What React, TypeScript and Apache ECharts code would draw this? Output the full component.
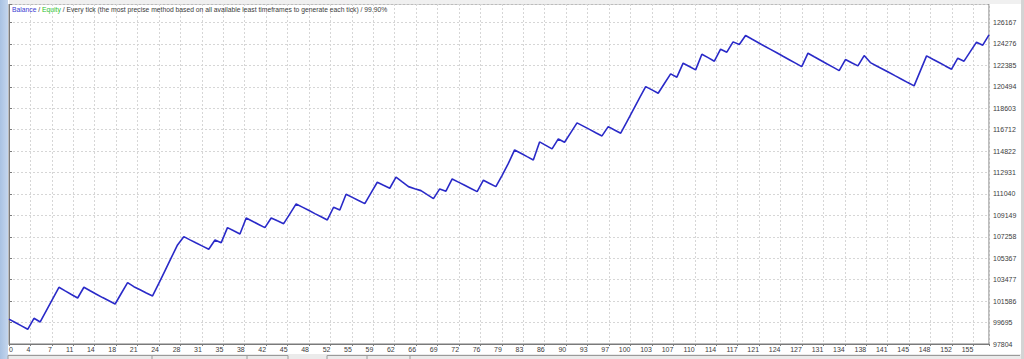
import React, { useEffect, useRef } from 'react';
import * as echarts from 'echarts';

// Tick labels
const xTickLabels = ['0', '4', '7', '11', '14', '18', '21', '24', '28', '31', '35', '38', '42', '45', '48', '52', '55', '59', '62', '66', '69', '72', '76', '79', '83', '86', '90', '93', '97', '100', '103', '107', '110', '114', '117', '121', '124', '127', '131', '134', '138', '141', '145', '148', '152', '155'];
const yTickLabels = ['97804', '99695', '101586', '103477', '105367', '107258', '109149', '111040', '112931', '114822', '116712', '118603', '120494', '122385', '124276', '126167'];

// Balance after each trade (index = trade number)
const balance = [
  100000, 99700, 99400, 99102, 100073, 99746, 100767, 101788, 102809, 102490,
  102175, 101864, 102809, 102500, 102200, 101900, 101620, 101335, 102280, 103215,
  102862, 102590, 102310, 102041, 103150, 104280, 105420, 106543, 107275, 106990,
  106710, 106440, 106163, 106984, 106746, 108070, 107790, 107514, 108926, 108640,
  108355, 108070, 108926, 108670, 108423, 109290, 110162, 109880, 109600, 109310,
  109030, 108749, 109871, 109632, 111018, 110740, 110460, 110188, 111130, 112077,
  111810, 111548, 112519, 112100, 111689, 111510, 111336, 110980, 110630, 111486,
  111283, 112369, 112090, 111810, 111530, 111248, 112254, 111970, 111689, 112686,
  113736, 114928, 114640, 114340, 114046, 115635, 115330, 115017, 115899, 115608,
  116460, 117312, 117030, 116740, 116450, 116164, 116985, 116690, 116402, 117430,
  118459, 119490, 120516, 120225, 119933, 120790, 121637, 121346, 122581, 122290,
  121990, 123376, 123070, 122758, 123817, 123552, 124462, 124223, 125018, 124710,
  124410, 124100, 123800, 123500, 123190, 122890, 122590, 122281, 123464, 123150,
  122840, 122530, 122230, 121928, 122899, 122620, 122343, 123252, 122634, 122340,
  122050, 121760, 121460, 121170, 120870, 120578, 121900, 123226, 122930, 122640,
  122340, 122052, 123023, 122758, 123600, 124435, 124170, 125079,
];

const titleText = 'Every tick (the most precise method based on all available least timeframes to generate each tick) / 99.90%';

const W = 1024;
const H = 359;
const gridLeft = 9;
const gridRight = 35;
const gridTop = 4;
const gridBottom = 15;
const plotW = W - gridLeft - gridRight;
const plotH = H - gridTop - gridBottom;
const tickPx = 21.43;
const lastIndex = balance.length - 1;
const xInterval = (lastIndex * tickPx) / plotW;
const yBase = 97804;
const yStep = 1890.848;
const yMax = (plotH / tickPx) * yStep;

const FONT = '"Liberation Sans", Arial, sans-serif';
const LABEL_SIZE = 7;
const TITLE_SIZE = 6.75;

export default function App() {
  const ref = useRef<HTMLDivElement>(null);
  useEffect(() => {
    document.body.style.margin = '0';
    if (!ref.current) return;
    const chart = echarts.init(ref.current, undefined, { renderer: 'svg' });
    const data = balance.map((v, i) => [i, v - yBase]);
    chart.setOption({
      animation: false,
      backgroundColor: '#ffffff',
      grid: {
        left: gridLeft, right: gridRight, top: gridTop, bottom: gridBottom,
        show: true, borderColor: '#7a7a7a', borderWidth: 1, backgroundColor: '#ffffff',
      },
      xAxis: {
        type: 'value', min: 0, max: lastIndex, interval: xInterval,
        axisLine: { show: true, lineStyle: { color: '#7a7a7a', width: 1 } },
        axisTick: { show: true, length: 2, lineStyle: { color: '#7a7a7a' } },
        axisLabel: {
          fontSize: LABEL_SIZE, fontFamily: FONT, color: '#3c3c3c', margin: 2,
          align: 'right', alignMinLabel: 'left', showMaxLabel: true,
          formatter: (v: number) => {
            const idx = Math.round(v / xInterval);
            if (Math.abs(idx * xInterval - v) > 0.01) return '';
            return xTickLabels[idx] ?? '';
          },
        },
        splitLine: { show: true, lineStyle: { color: '#d6d6d6', width: 1, type: [2, 2] } },
      },
      yAxis: {
        type: 'value', position: 'right', min: 0, max: yMax, interval: yStep,
        axisLine: { show: true, lineStyle: { color: '#7a7a7a', width: 1 } },
        axisTick: { show: true, length: 3, lineStyle: { color: '#7a7a7a' } },
        axisLabel: {
          fontSize: LABEL_SIZE, fontFamily: FONT, color: '#3c3c3c', margin: 4,
          formatter: (v: number) => {
            const idx = Math.round(v / yStep);
            if (Math.abs(idx * yStep - v) > 0.5) return '';
            return yTickLabels[idx] ?? '';
          },
        },
        splitLine: { show: true, lineStyle: { color: '#d6d6d6', width: 1, type: [2, 2] } },
      },
      series: [
        {
          type: 'line', data, showSymbol: false, symbol: 'none',
          lineStyle: { color: '#2a2ac8', width: 1.6 },
        },
      ],
      graphic: [
        {
          type: 'rect', z: 1, shape: { x: 0, y: 0, width: gridLeft - 1, height: H },
          style: {
            fill: new echarts.graphic.LinearGradient(0, 0, 1, 0, [
              { offset: 0, color: '#a9c2e2' }, { offset: 1, color: '#c4d6ee' },
            ]),
          },
        },
        { type: 'rect', z: 1, shape: { x: gridLeft, y: 0, width: W - gridLeft, height: gridTop }, style: { fill: '#f0f0f0' } },
        { type: 'rect', z: 1, shape: { x: W - 3, y: 0, width: 3, height: H }, style: { fill: '#d4d4d4' } },
        { type: 'rect', z: 1, shape: { x: gridLeft - 1, y: 354, width: W - gridLeft - 2, height: 5 }, style: { fill: '#ebebeb' } },
        { type: 'polyline', z: 2, shape: { points: [[8, 359], [8, 355.5], [288, 355.5], [288, 359]] }, style: { stroke: '#9a9a9a', fill: 'none', lineWidth: 1 } },
        { type: 'line', z: 2, shape: { x1: 152, y1: 356, x2: 152, y2: 359 }, style: { stroke: '#9a9a9a', lineWidth: 1 } },
        { type: 'line', z: 2, shape: { x1: 247, y1: 356, x2: 247, y2: 359 }, style: { stroke: '#9a9a9a', lineWidth: 1 } },
        { type: 'polyline', z: 2, shape: { points: [[327, 359], [327, 355.5], [1020, 355.5]] }, style: { stroke: '#9a9a9a', fill: 'none', lineWidth: 1 } },
        { type: 'line', z: 2, shape: { x1: 367, y1: 356, x2: 367, y2: 359 }, style: { stroke: '#9a9a9a', lineWidth: 1 } },
        { type: 'line', z: 2, shape: { x1: 410, y1: 356, x2: 410, y2: 359 }, style: { stroke: '#9a9a9a', lineWidth: 1 } },
        {
          type: 'text', z: 100, x: 12, y: 9,
          style: {
            text: '{b|Balance} / {e|Equity} / ' + titleText,
            fill: '#3c3c3c', fontSize: TITLE_SIZE, fontFamily: FONT, verticalAlign: 'middle',
            rich: {
              b: { fill: '#3b3bd2', fontSize: TITLE_SIZE, fontFamily: FONT },
              e: { fill: '#2fbf2f', fontSize: TITLE_SIZE, fontFamily: FONT },
            },
          },
        },
      ],
    });
    return () => chart.dispose();
  }, []);
  return <div ref={ref} style={{ width: W, height: H }} />;
}
